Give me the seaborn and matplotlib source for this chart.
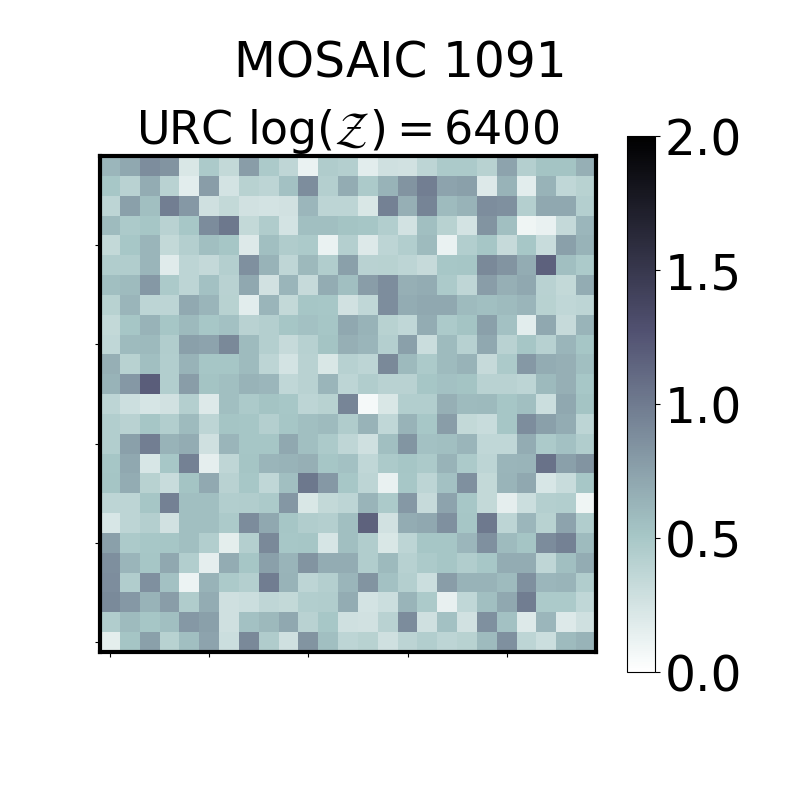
import numpy as np
import matplotlib
matplotlib.use("Agg")
import matplotlib.pyplot as plt
import seaborn as sns

# cell values, top row first
row_00 = [.61, .71, .88, .84, .22, .48, .35, .78, .48, .37, .12, .46, .43, .17, .28, .27, .38, .48, .48, .41, .74, .43, .53, .53, .66]
row_01 = [.5, .4, .68, .4, .17, .78, .25, .41, .38, .54, .88, .43, .68, .48, .64, .84, .98, .74, .76, .2, .64, .17, .64, .36, .41]
row_02 = [.38, .76, .56, .98, .81, .28, .35, .27, .25, .27, .61, .38, .38, .22, .96, .66, .94, .58, .64, .88, .86, .43, .71, .71, .43]
row_03 = [.58, .48, .51, .4, .5, .89, 1.02, .35, .46, .25, .56, .56, .53, .51, .44, .26, .56, .41, .25, .84, .56, .1, .13, .34, .61]
row_04 = [.35, .5, .62, .35, .43, .56, .51, .2, .56, .46, .48, .12, .43, .2, .38, .44, .58, .12, .44, .51, .33, .5, .32, .76, .64]
row_05 = [.45, .45, .62, .18, .38, .34, .43, .86, .64, .37, .6, .45, .76, .4, .41, .38, .33, .5, .51, .91, .84, .68, 1.17, .56, .48]
row_06 = [.56, .58, .81, .48, .38, .54, .4, .71, .27, .62, .33, .68, .56, .78, .88, .66, .68, .48, .37, .78, .66, .71, .4, .35, .68]
row_07 = [.41, .62, .38, .38, .7, .62, .41, .17, .62, .35, .51, .5, .27, .36, .88, .68, .71, .71, .58, .56, .58, .62, .41, .36, .38]
row_08 = [.35, .51, .64, .51, .59, .5, .54, .4, .43, .51, .54, .51, .71, .64, .41, .36, .68, .48, .53, .76, .54, .17, .71, .33, .63]
row_09 = [.36, .58, .59, .45, .76, .74, .91, .58, .43, .33, .42, .53, .66, .62, .43, .76, .31, .58, .42, .71, .4, .51, .42, .62, .51]
row_10 = [.66, .41, .56, .44, .64, .51, .51, .58, .38, .25, .4, .22, .42, .38, .91, .59, .48, .58, .64, .33, .48, .81, .68, .66, .56]
row_11 = [.64, .81, 1.19, .44, .78, .53, .56, .64, .61, .36, .4, .62, .38, .45, .4, .4, .51, .54, .53, .4, .4, .38, .59, .66, .5]
row_12 = [.38, .29, .24, .27, .43, .2, .56, .48, .53, .5, .38, .41, .93, .06, .22, .44, .44, .66, .58, .59, .51, .56, .3, .71, .53]
row_13 = [.44, .4, .51, .44, .58, .38, .52, .51, .43, .51, .56, .58, .46, .64, .36, .64, .5, .78, .35, .32, .51, .88, .76, .68, .38]
row_14 = [.44, .76, .98, .64, .68, .28, .62, .51, .51, .71, .56, .48, .37, .28, .56, .83, .54, .56, .62, .36, .36, .68, .48, .54, .45]
row_15 = [.51, .71, .23, .5, .96, .15, .37, .52, .62, .64, .66, .51, .54, .36, .48, .51, .48, .64, .48, .38, .62, .63, 1.06, .76, .84]
row_16 = [.52, .68, .41, .32, .53, .7, .4, .5, .36, .56, 1.02, .81, .5, .38, .13, .5, .38, .54, .86, .35, .63, .71, .23, .32, .5]
row_17 = [.38, .38, .51, .96, .56, .56, .44, .45, .48, .82, .22, .35, .38, .63, .48, .81, .33, .74, .5, .35, .15, .3, .43, .44, .1]
row_18 = [.23, .38, .43, .27, .56, .56, .48, .89, .71, .51, .45, .43, .56, 1.16, .27, .68, .71, .86, .51, 1.01, .38, .61, .41, .74, .45]
row_19 = [.76, .48, .5, .51, .56, .44, .16, .43, .91, .5, .51, .24, .56, .45, .22, .38, .51, .51, .61, .86, .58, .52, .89, .96, .58]
row_20 = [.87, .62, .51, .71, .44, .15, .68, .51, .76, .63, .84, .68, .68, .45, .59, .42, .48, .51, .45, .5, .68, .68, .37, .56, .68]
row_21 = [.88, .45, .86, .54, .11, .64, .48, .43, .99, .64, .38, .43, .62, .84, .54, .43, .3, .78, .64, .64, .58, .86, .61, .63, .45]
row_22 = [.9, .81, .64, .78, .46, .68, .28, .3, .37, .35, .44, .45, .68, .25, .3, .63, .48, .14, .36, .56, .71, .99, .48, .48, .36]
row_23 = [.45, .58, .51, .56, .81, .76, .28, .54, .6, .71, .4, .5, .28, .27, .4, .89, .28, .54, .27, .86, .54, .2, .61, .2, .28]
row_24 = [.16, .52, .76, .41, .56, .74, .3, .91, .46, .28, .84, .56, .38, .41, .28, .39, .44, .38, .41, .58, .86, .38, .3, .58, .64]

rows = [row_00, row_01, row_02, row_03, row_04, row_05, row_06, row_07, row_08, row_09, row_10, row_11, row_12,
        row_13, row_14, row_15, row_16, row_17, row_18, row_19, row_20, row_21, row_22, row_23, row_24]
cbar_ticks = [0.0, 0.5, 1.0, 1.5, 2.0]

fig = plt.figure(figsize=(8, 8), dpi=100)
ax = fig.add_axes([100 / 800, 148 / 800, 496 / 800, 496 / 800])
cax = fig.add_axes([627 / 800, 128 / 800, 28 / 800, 536 / 800])

sns.heatmap(np.array(rows), ax=ax, cbar_ax=cax, cmap="bone_r", vmin=0, vmax=2,
            xticklabels=False, yticklabels=False, cbar_kws={"ticks": cbar_ticks})

# heatmap drops the spines, the original has a heavy frame
for s in ax.spines.values():
    s.set_visible(True)
    s.set_linewidth(3)
    s.set_color("black")
ax.set_xticks(np.arange(0, 25, 5) + 0.5, labels=[])
ax.set_yticks(np.arange(4, 25, 5) + 0.5, labels=[])
ax.tick_params(left=True, bottom=True, length=3.5, width=0.8)

cb = ax.collections[0].colorbar
cb.outline.set_visible(True)
cb.outline.set_linewidth(0.8)
cb.outline.set_edgecolor("black")
cb.ax.tick_params(labelsize=35, length=3.5, width=0.8)

ax.set_title(r"URC $\log(\mathcal{Z}) = 6400$", fontsize=33, pad=6)
fig.suptitle("MOSAIC 1091", fontsize=35, x=0.5, y=0.951)

fig.savefig("out.png", dpi=100)
